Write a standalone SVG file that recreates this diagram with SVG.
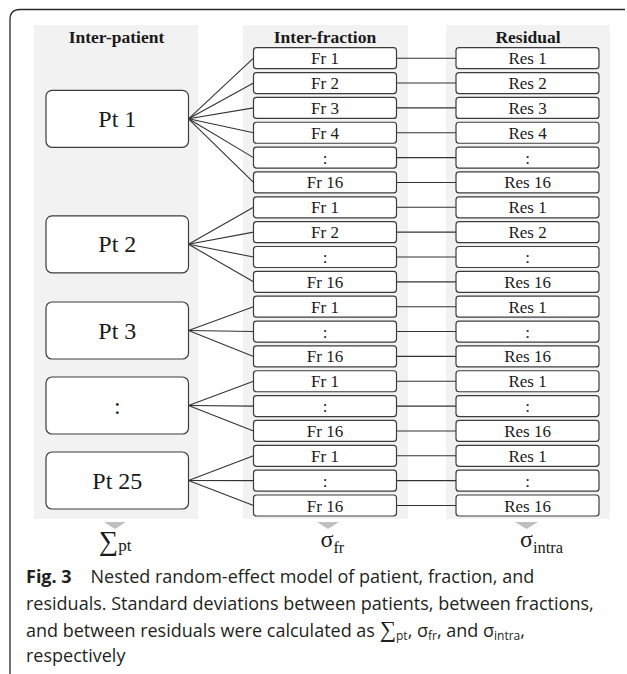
<svg xmlns="http://www.w3.org/2000/svg" width="627" height="674" viewBox="0 0 627 674">
<style>
.panel{fill:#f2f2f2;stroke:none}
.box{fill:#ffffff;stroke:#3c3c3c;stroke-width:1.2}
.hdr{font-family:"Liberation Serif",serif;font-weight:bold;font-size:17.5px;fill:#1a1a1a;text-anchor:middle}
.pt{font-family:"Liberation Serif",serif;font-size:24px;fill:#1a1a1a;text-anchor:middle}
.fr{font-family:"Liberation Serif",serif;font-size:17px;fill:#1a1a1a;text-anchor:middle}
.sym{font-family:"Liberation Serif",serif;fill:#1a1a1a}
.tri{fill:#bfbfbf}
.cap{font-family:"Open Sans",sans-serif;font-size:18px;fill:#231f20}
.frame{fill:none;stroke:#2a2a2a;stroke-width:1.3}
#connectors line{stroke:#333333;stroke-width:1.1}
</style>
<path class="frame" d="M10,674 L10,19.5 Q10,9.5 20,9.5 L625,9.5"/>
<rect class="panel" x="34" y="25" width="164" height="494"/>
<rect class="panel" x="243" y="25" width="165" height="494"/>
<rect class="panel" x="446" y="25" width="164" height="494"/>
<text class="hdr" x="116.5" y="42.5">Inter-patient</text>
<text class="hdr" x="325" y="42.5">Inter-fraction</text>
<text class="hdr" x="528" y="42.5">Residual</text>
<g id="connectors">
<line x1="188.5" y1="118.8" x2="253.5" y2="58.2"/>
<line x1="188.5" y1="118.8" x2="253.5" y2="83.05"/>
<line x1="188.5" y1="118.8" x2="253.5" y2="107.9"/>
<line x1="188.5" y1="118.8" x2="253.5" y2="132.75"/>
<line x1="188.5" y1="118.8" x2="253.5" y2="157.6"/>
<line x1="188.5" y1="118.8" x2="253.5" y2="182.45"/>
<line x1="188.5" y1="244.3" x2="253.5" y2="207.3"/>
<line x1="188.5" y1="244.3" x2="253.5" y2="232.15"/>
<line x1="188.5" y1="244.3" x2="253.5" y2="257"/>
<line x1="188.5" y1="244.3" x2="253.5" y2="281.85"/>
<line x1="188.5" y1="330.5" x2="253.5" y2="306.7"/>
<line x1="188.5" y1="330.5" x2="253.5" y2="331.55"/>
<line x1="188.5" y1="330.5" x2="253.5" y2="356.4"/>
<line x1="188.5" y1="405.5" x2="253.5" y2="381.25"/>
<line x1="188.5" y1="405.5" x2="253.5" y2="406.1"/>
<line x1="188.5" y1="405.5" x2="253.5" y2="430.95"/>
<line x1="188.5" y1="480.5" x2="253.5" y2="455.8"/>
<line x1="188.5" y1="480.5" x2="253.5" y2="480.65"/>
<line x1="188.5" y1="480.5" x2="253.5" y2="505.5"/>
<line x1="396.5" y1="58.2" x2="456" y2="58.2"/>
<line x1="396.5" y1="83.05" x2="456" y2="83.05"/>
<line x1="396.5" y1="107.9" x2="456" y2="107.9"/>
<line x1="396.5" y1="132.75" x2="456" y2="132.75"/>
<line x1="396.5" y1="157.6" x2="456" y2="157.6"/>
<line x1="396.5" y1="182.45" x2="456" y2="182.45"/>
<line x1="396.5" y1="207.3" x2="456" y2="207.3"/>
<line x1="396.5" y1="232.15" x2="456" y2="232.15"/>
<line x1="396.5" y1="257" x2="456" y2="257"/>
<line x1="396.5" y1="281.85" x2="456" y2="281.85"/>
<line x1="396.5" y1="306.7" x2="456" y2="306.7"/>
<line x1="396.5" y1="331.55" x2="456" y2="331.55"/>
<line x1="396.5" y1="356.4" x2="456" y2="356.4"/>
<line x1="396.5" y1="381.25" x2="456" y2="381.25"/>
<line x1="396.5" y1="406.1" x2="456" y2="406.1"/>
<line x1="396.5" y1="430.95" x2="456" y2="430.95"/>
<line x1="396.5" y1="455.8" x2="456" y2="455.8"/>
<line x1="396.5" y1="480.65" x2="456" y2="480.65"/>
<line x1="396.5" y1="505.5" x2="456" y2="505.5"/>
</g>
<g id="pt1"><rect class="box" x="46" y="90.3" width="142.5" height="57" rx="6"/><text class="pt" x="117.3" y="126.8">Pt 1</text></g>
<g id="pt2"><rect class="box" x="46" y="215.8" width="142.5" height="57" rx="6"/><text class="pt" x="117.3" y="252.3">Pt 2</text></g>
<g id="pt3"><rect class="box" x="46" y="302" width="142.5" height="57" rx="6"/><text class="pt" x="117.3" y="338.5">Pt 3</text></g>
<g id="ptdots"><rect class="box" x="46" y="377" width="142.5" height="57" rx="6"/><text class="pt" x="117.3" y="413.5">:</text></g>
<g id="pt25"><rect class="box" x="46" y="452" width="142.5" height="57" rx="6"/><text class="pt" x="117.3" y="488.5">Pt 25</text></g>
<g id="fr-1-1"><rect class="box" x="253.5" y="47.7" width="143" height="21" rx="3"/><text class="fr" x="325" y="64.2">Fr 1</text></g>
<g id="fr-1-2"><rect class="box" x="253.5" y="72.55" width="143" height="21" rx="3"/><text class="fr" x="325" y="89.05">Fr 2</text></g>
<g id="fr-1-3"><rect class="box" x="253.5" y="97.4" width="143" height="21" rx="3"/><text class="fr" x="325" y="113.9">Fr 3</text></g>
<g id="fr-1-4"><rect class="box" x="253.5" y="122.25" width="143" height="21" rx="3"/><text class="fr" x="325" y="138.75">Fr 4</text></g>
<g id="fr-1-d"><rect class="box" x="253.5" y="147.1" width="143" height="21" rx="3"/><text class="fr" x="325" y="163.6">:</text></g>
<g id="fr-1-16"><rect class="box" x="253.5" y="171.95" width="143" height="21" rx="3"/><text class="fr" x="325" y="188.45">Fr 16</text></g>
<g id="fr-2-1"><rect class="box" x="253.5" y="196.8" width="143" height="21" rx="3"/><text class="fr" x="325" y="213.3">Fr 1</text></g>
<g id="fr-2-2"><rect class="box" x="253.5" y="221.65" width="143" height="21" rx="3"/><text class="fr" x="325" y="238.15">Fr 2</text></g>
<g id="fr-2-d"><rect class="box" x="253.5" y="246.5" width="143" height="21" rx="3"/><text class="fr" x="325" y="263">:</text></g>
<g id="fr-2-16"><rect class="box" x="253.5" y="271.35" width="143" height="21" rx="3"/><text class="fr" x="325" y="287.85">Fr 16</text></g>
<g id="fr-3-1"><rect class="box" x="253.5" y="296.2" width="143" height="21" rx="3"/><text class="fr" x="325" y="312.7">Fr 1</text></g>
<g id="fr-3-d"><rect class="box" x="253.5" y="321.05" width="143" height="21" rx="3"/><text class="fr" x="325" y="337.55">:</text></g>
<g id="fr-3-16"><rect class="box" x="253.5" y="345.9" width="143" height="21" rx="3"/><text class="fr" x="325" y="362.4">Fr 16</text></g>
<g id="fr-4-1"><rect class="box" x="253.5" y="370.75" width="143" height="21" rx="3"/><text class="fr" x="325" y="387.25">Fr 1</text></g>
<g id="fr-4-d"><rect class="box" x="253.5" y="395.6" width="143" height="21" rx="3"/><text class="fr" x="325" y="412.1">:</text></g>
<g id="fr-4-16"><rect class="box" x="253.5" y="420.45" width="143" height="21" rx="3"/><text class="fr" x="325" y="436.95">Fr 16</text></g>
<g id="fr-5-1"><rect class="box" x="253.5" y="445.3" width="143" height="21" rx="3"/><text class="fr" x="325" y="461.8">Fr 1</text></g>
<g id="fr-5-d"><rect class="box" x="253.5" y="470.15" width="143" height="21" rx="3"/><text class="fr" x="325" y="486.65">:</text></g>
<g id="fr-5-16"><rect class="box" x="253.5" y="495" width="143" height="21" rx="3"/><text class="fr" x="325" y="511.5">Fr 16</text></g>
<g id="res-1-1"><rect class="box" x="456" y="47.7" width="143" height="21" rx="3"/><text class="fr" x="527.5" y="64.2">Res 1</text></g>
<g id="res-1-2"><rect class="box" x="456" y="72.55" width="143" height="21" rx="3"/><text class="fr" x="527.5" y="89.05">Res 2</text></g>
<g id="res-1-3"><rect class="box" x="456" y="97.4" width="143" height="21" rx="3"/><text class="fr" x="527.5" y="113.9">Res 3</text></g>
<g id="res-1-4"><rect class="box" x="456" y="122.25" width="143" height="21" rx="3"/><text class="fr" x="527.5" y="138.75">Res 4</text></g>
<g id="res-1-d"><rect class="box" x="456" y="147.1" width="143" height="21" rx="3"/><text class="fr" x="527.5" y="163.6">:</text></g>
<g id="res-1-16"><rect class="box" x="456" y="171.95" width="143" height="21" rx="3"/><text class="fr" x="527.5" y="188.45">Res 16</text></g>
<g id="res-2-1"><rect class="box" x="456" y="196.8" width="143" height="21" rx="3"/><text class="fr" x="527.5" y="213.3">Res 1</text></g>
<g id="res-2-2"><rect class="box" x="456" y="221.65" width="143" height="21" rx="3"/><text class="fr" x="527.5" y="238.15">Res 2</text></g>
<g id="res-2-d"><rect class="box" x="456" y="246.5" width="143" height="21" rx="3"/><text class="fr" x="527.5" y="263">:</text></g>
<g id="res-2-16"><rect class="box" x="456" y="271.35" width="143" height="21" rx="3"/><text class="fr" x="527.5" y="287.85">Res 16</text></g>
<g id="res-3-1"><rect class="box" x="456" y="296.2" width="143" height="21" rx="3"/><text class="fr" x="527.5" y="312.7">Res 1</text></g>
<g id="res-3-d"><rect class="box" x="456" y="321.05" width="143" height="21" rx="3"/><text class="fr" x="527.5" y="337.55">:</text></g>
<g id="res-3-16"><rect class="box" x="456" y="345.9" width="143" height="21" rx="3"/><text class="fr" x="527.5" y="362.4">Res 16</text></g>
<g id="res-4-1"><rect class="box" x="456" y="370.75" width="143" height="21" rx="3"/><text class="fr" x="527.5" y="387.25">Res 1</text></g>
<g id="res-4-d"><rect class="box" x="456" y="395.6" width="143" height="21" rx="3"/><text class="fr" x="527.5" y="412.1">:</text></g>
<g id="res-4-16"><rect class="box" x="456" y="420.45" width="143" height="21" rx="3"/><text class="fr" x="527.5" y="436.95">Res 16</text></g>
<g id="res-5-1"><rect class="box" x="456" y="445.3" width="143" height="21" rx="3"/><text class="fr" x="527.5" y="461.8">Res 1</text></g>
<g id="res-5-d"><rect class="box" x="456" y="470.15" width="143" height="21" rx="3"/><text class="fr" x="527.5" y="486.65">:</text></g>
<g id="res-5-16"><rect class="box" x="456" y="495" width="143" height="21" rx="3"/><text class="fr" x="527.5" y="511.5">Res 16</text></g>
<polygon class="tri" points="104,522 126,522 115,529"/>
<polygon class="tri" points="317,522 339,522 328,529"/>
<polygon class="tri" points="515,522 538,522 526.5,529"/>
<text class="sym" x="99" y="550" font-size="27">∑<tspan font-size="17" dy="1">pt</tspan></text>
<text class="sym" x="320.5" y="547" font-size="24">σ<tspan font-size="16" dy="6">fr</tspan></text>
<text class="sym" x="520" y="547" font-size="24">σ<tspan font-size="16.5" dy="6">intra</tspan></text>
<text class="cap" x="26" y="583"><tspan font-weight="bold">Fig. 3</tspan><tspan x="90.5">Nested random-effect model of patient, fraction, and</tspan></text>
<text class="cap" x="26" y="610">residuals. Standard deviations between patients, between fractions,</text>
<text class="cap" x="26" y="637">and between residuals were calculated as <tspan font-family="Liberation Serif,serif" font-size="23">∑</tspan><tspan font-size="12" dy="3">pt</tspan><tspan dy="-3">, σ</tspan><tspan font-size="12" dy="3">fr</tspan><tspan dy="-3">, and σ</tspan><tspan font-size="12" dy="3">intra</tspan><tspan dy="-3">,</tspan></text>
<text class="cap" x="26" y="662">respectively</text>
</svg>
